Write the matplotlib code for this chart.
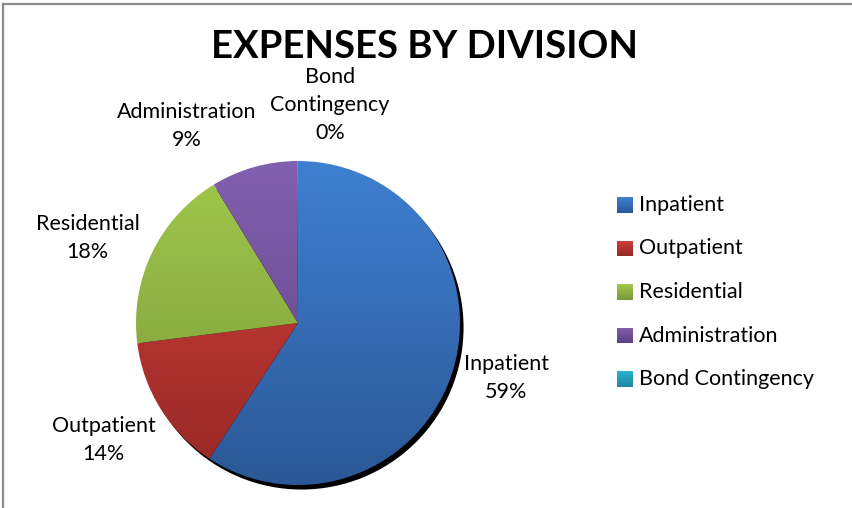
import numpy as np
import matplotlib
matplotlib.use("Agg")
import matplotlib.pyplot as plt
from matplotlib.colors import LinearSegmentedColormap
from matplotlib.patches import Circle
from matplotlib.lines import Line2D

# Expense shares by division
divisions = ["Inpatient", "Outpatient", "Residential", "Administration", "Bond Contingency"]
label_names = ["Inpatient", "Outpatient", "Residential", "Administration", "Bond\nContingency"]
shares = [59.2, 13.8, 18.3, 8.6, 0.1]

# Gradient (top, bottom) colour for each slice
top_colors = ["#3F80D2", "#D2403C", "#A2C84C", "#8260B0", "#2DB2D2"]
bottom_colors = ["#2B5896", "#962826", "#78983A", "#5C4080", "#1E86A0"]

# Label anchor points, in pie-radius units
label_xy = [(1.284, -0.34), (-1.20, -0.722), (-1.30, 0.525), (-0.688, 1.216), (0.198, 1.346)]

FONT = ["Lato", "DejaVu Sans"]
FS = 15.5

fig = plt.figure(figsize=(8.53, 5.08), dpi=100)
fig.patch.set_facecolor("white")
W, H = 853, 508

# Chart frame (top and left edges)
fig.add_artist(Line2D([3 / W, 3 / W], [0, 1 - 4 / H], transform=fig.transFigure,
                      color="#8C8C8C", lw=1.6))
fig.add_artist(Line2D([3 / W, 1], [1 - 4 / H, 1 - 4 / H], transform=fig.transFigure,
                      color="#8C8C8C", lw=1.6))

cx, cy, r = 298, 323, 162
ax = fig.add_axes([(cx - r) / W, (H - cy - r) / H, 2 * r / W, 2 * r / H])
ax.axis("off")

# Drop shadow behind the pie
ax.add_patch(Circle((0.022, -0.028), 1.0, facecolor="black", edgecolor="none",
                    zorder=0, clip_on=False))

wedges, _ = ax.pie(shares, startangle=90, counterclock=False, radius=1.0,
                   wedgeprops=dict(edgecolor="none", linewidth=0))

grad = np.linspace(0, 1, 256).reshape(-1, 1)
for w, c0, c1 in zip(wedges, top_colors, bottom_colors):
    w.set_facecolor("none")
    w.set_zorder(2)
    cmap = LinearSegmentedColormap.from_list("g", [c0, c1])
    im = ax.imshow(grad, cmap=cmap, extent=[-1, 1, -1, 1], origin="upper",
                   aspect="auto", zorder=1, interpolation="bilinear")
    im.set_clip_path(w)

total = sum(shares)
for name, val, (lx, ly) in zip(label_names, shares, label_xy):
    ax.text(lx, ly, f"{name}\n{val / total * 100:.0f}%", ha="center", va="center",
            fontsize=FS, family=FONT, color="black", linespacing=1.5, clip_on=False)

ax.set_xlim(-1, 1)
ax.set_ylim(-1, 1)
ax.set_aspect("equal")

fig.text(425 / W, 1 - 47 / H, "EXPENSES BY DIVISION", ha="center", va="center",
         fontsize=27.5, fontweight="bold", family=FONT)

# Legend
lx0, ly0, step = 617, 205, 43.5
for i, (name, c0, c1) in enumerate(zip(divisions, top_colors, bottom_colors)):
    y = ly0 + i * step
    sq = 16
    lax = fig.add_axes([lx0 / W, (H - y - sq / 2) / H, sq / W, sq / H])
    cmap = LinearSegmentedColormap.from_list("g", [c0, c1])
    lax.imshow(grad, cmap=cmap, aspect="auto", interpolation="bilinear")
    lax.axis("off")
    fig.text((lx0 + 22) / W, 1 - y / H, name, ha="left", va="center",
             fontsize=FS, family=FONT)

fig.savefig("out.png", dpi=100, facecolor="white")
